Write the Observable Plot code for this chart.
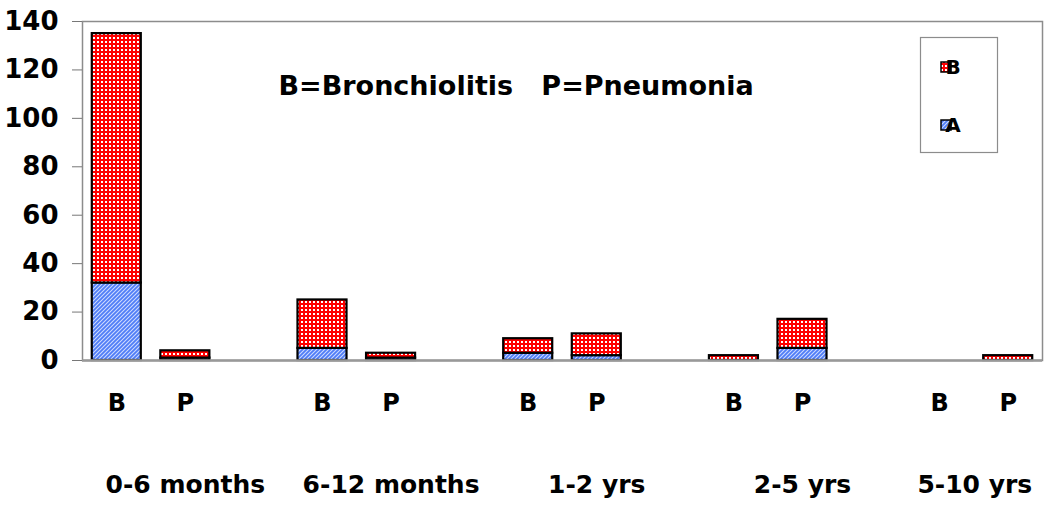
<!DOCTYPE html>
<html>
<head>
<meta charset="utf-8">
<script src="https://cdn.jsdelivr.net/npm/d3@7"></script>
<script src="https://cdn.jsdelivr.net/npm/@observablehq/plot@0.6"></script>
<style>
  html, body { margin: 0; padding: 0; background: #fff; }
  #chart svg { display: block; }
</style>
</head>
<body>
<div id="chart"></div>
<script>
// ---- data ----
const groups = ["0-6 months", "6-12 months", "1-2 yrs", "2-5 yrs", "5-10 yrs"];
const kinds = ["B", "P"];
const seriesNames = ["A", "B"];
// series A counts, per group, for B (bronchiolitis) and P (pneumonia)
const seriesA_B = [32, 5, 3, 0, 0];
const seriesA_P = [1, 1, 2, 5, 0];
// series B counts
const seriesB_B = [103, 20, 6, 2, 0];
const seriesB_P = [3, 2, 9, 12, 2];
const yTicks = [0, 20, 40, 60, 80, 100, 120, 140];
const annotation = "B=Bronchiolitis\u00a0\u00a0\u00a0P=Pneumonia";

// ---- build table ----
const domain = [];
const cats = [];
groups.forEach((g, i) => {
  kinds.forEach(k => { domain.push(g + "|" + k); cats.push({key: g + "|" + k, kind: k, group: g, gi: i}); });
  if (i < groups.length - 1) domain.push(g + "|gap");
});
const rows = [];
groups.forEach((g, i) => {
  rows.push({key: g + "|B", series: "A", value: seriesA_B[i]});
  rows.push({key: g + "|P", series: "A", value: seriesA_P[i]});
});
groups.forEach((g, i) => {
  rows.push({key: g + "|B", series: "B", value: seriesB_B[i]});
  rows.push({key: g + "|P", series: "B", value: seriesB_P[i]});
});
const data = rows.filter(d => d.value > 0);
const pCats = cats.filter(c => c.kind === "P");

const font = "'DejaVu Sans', sans-serif";

const chart = Plot.plot({
  width: 1045,
  height: 506,
  marginLeft: 82,
  marginRight: 3,
  marginTop: 21,
  marginBottom: 146,
  style: {fontFamily: font, fontWeight: "bold", color: "#000", background: "#fff"},
  x: {type: "band", domain, paddingInner: 0.285, paddingOuter: 0.1425, round: false, axis: null},
  y: {domain: [0, 140], axis: null},
  color: {domain: seriesNames, range: ["url(#patA)", "url(#patB)"]},
  marks: [
    Plot.frame({stroke: "#8c8c8c", strokeWidth: 1.5}),
    Plot.axisY({ticks: yTicks, tickSize: 10, tickPadding: 14, fontSize: 26, stroke: "#777", fontWeight: "bold", label: null}),
    Plot.barY(data, {x: "key", y: "value", fill: "series", stroke: "#000", strokeWidth: 2.2, inset: 0}),
    Plot.ruleY([0], {stroke: "#999", strokeWidth: 2.5}),
    Plot.text(cats, {x: "key", text: "kind", frameAnchor: "bottom", dy: 50, fontSize: 24, fontWeight: "bold"}),
    Plot.text(pCats.slice(0, 4), {x: "key", text: "group", frameAnchor: "bottom", dy: 132, fontSize: 25, fontWeight: "bold"}),
    Plot.text(pCats.slice(4), {x: "key", text: "group", frameAnchor: "bottom", dy: 132, dx: 24, textAnchor: "end", fontSize: 25, fontWeight: "bold"}),
    Plot.text([annotation], {frameAnchor: "top-left", dx: 196, dy: 65, textAnchor: "start", lineAnchor: "middle", fontSize: 27, fontWeight: "bold"})
  ]
});

// patterns
const svg = d3.select(chart);
const defs = svg.insert("defs", ":first-child");
const pB = defs.append("pattern").attr("id", "patB").attr("patternUnits", "userSpaceOnUse").attr("width", 4).attr("height", 4);
pB.append("rect").attr("width", 4).attr("height", 4).attr("fill", "#ff0000");
pB.append("rect").attr("x", 1).attr("y", 1).attr("width", 2).attr("height", 2).attr("fill", "#ffffff");
const pA = defs.append("pattern").attr("id", "patA").attr("patternUnits", "userSpaceOnUse").attr("width", 4).attr("height", 4);
pA.append("rect").attr("width", 4).attr("height", 4).attr("fill", "#cfdcff");
pA.append("path").attr("d", "M-1,1 L1,-1 M0,4 L4,0 M3,5 L5,3").attr("stroke", "#4f7df7").attr("stroke-width", 1.8);

// legend box
const lg = svg.append("g").attr("class", "legend");
lg.append("rect").attr("x", 920.5).attr("y", 37.5).attr("width", 77).attr("height", 115)
  .attr("fill", "#fff").attr("stroke", "#8c8c8c").attr("stroke-width", 1.2);
const legendItems = [seriesNames[1], seriesNames[0]];
legendItems.forEach((s, i) => {
  const y = 62 + i * 58;
  lg.append("rect").attr("x", 941).attr("y", y).attr("width", 10).attr("height", 10)
    .attr("fill", s === "A" ? "url(#patA)" : "url(#patB)").attr("stroke", "#000").attr("stroke-width", 1.5);
  lg.append("text").attr("x", 953).attr("y", y + 12).text(s)
    .attr("font-family", font).attr("font-weight", "bold").attr("font-size", 20).attr("fill", "#000");
});

document.getElementById("chart").appendChild(chart);
</script>
</body>
</html>
